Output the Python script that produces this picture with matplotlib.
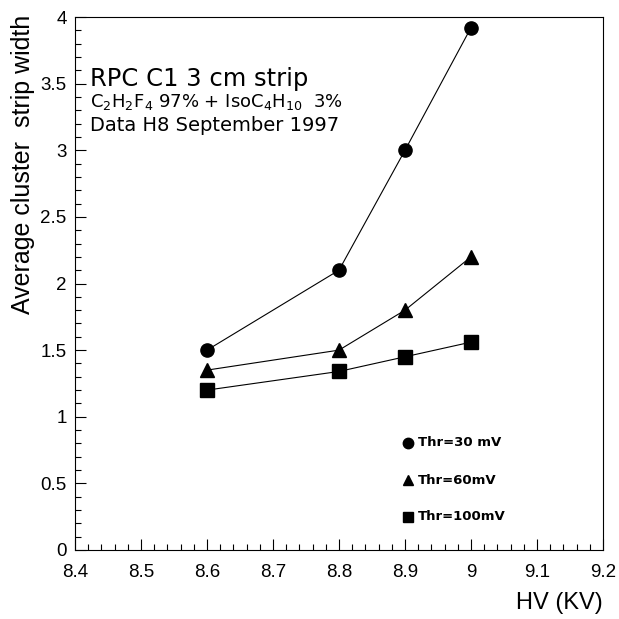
import matplotlib
matplotlib.use("Agg")
import matplotlib.pyplot as plt
from matplotlib.lines import Line2D
from matplotlib.ticker import MultipleLocator, FuncFormatter

hv = [8.6, 8.8, 8.9, 9.0]
thr30 = [1.5, 2.1, 3.0, 3.92]
thr60 = [1.35, 1.5, 1.8, 2.2]
thr100 = [1.2, 1.34, 1.45, 1.56]
series_labels = ["Thr=30 mV", "Thr=60mV", "Thr=100mV"]

plt.rcParams['font.family'] = ['Liberation Sans', 'DejaVu Sans']

fig = plt.figure(figsize=(6.19, 6.19), dpi=100)
ax = fig.add_axes([75/619, 69/619, 528/619, 533/619])

for y, m in zip([thr30, thr60, thr100], ['o', '^', 's']):
    ax.plot(hv, y, color='black', lw=0.8, marker=m, markersize=9.5,
            markerfacecolor='black', markeredgecolor='black')

ax.set_xlim(8.4, 9.2)
ax.set_ylim(0, 4)
ax.xaxis.set_major_locator(MultipleLocator(0.1))
ax.xaxis.set_minor_locator(MultipleLocator(0.02))
ax.yaxis.set_major_locator(MultipleLocator(0.5))
ax.yaxis.set_minor_locator(MultipleLocator(0.1))
ax.xaxis.set_major_formatter(FuncFormatter(lambda v, p: ('%g' % round(v, 2))))
ax.yaxis.set_major_formatter(FuncFormatter(lambda v, p: ('%g' % round(v, 2))))
ax.tick_params(which='both', direction='in', top=False, right=False, labelsize=13.5)
ax.tick_params(which='major', length=8, width=0.8)
ax.tick_params(which='minor', length=4, width=0.8)
ax.tick_params(axis='x', pad=10)
ax.tick_params(axis='y', pad=6)
for s in ax.spines.values():
    s.set_linewidth(0.8)

fig.text(23/619, 1 - 15/619, "Average cluster  strip width", rotation=90,
         ha='center', va='top', fontsize=18)
fig.text(603/619, 1 - 603/619, "HV (KV)", ha='right', va='center', fontsize=17)

fig.text(90/619, 1 - 86/619, "RPC C1 3 cm strip", ha='left', va='baseline', fontsize=17.5,
         family=['DejaVu Sans'])
fig.text(90/619, 1 - 107/619, r"C$_2$H$_2$F$_4$ 97% + IsoC$_4$H$_{10}$  3%", ha='left',
         va='baseline', fontsize=13, family=['DejaVu Sans'])
fig.text(90/619, 1 - 131/619, "Data H8 September 1997", ha='left', va='baseline',
         fontsize=14, family=['DejaVu Sans'])

leg_y = [443, 480, 517]
for ly, m, lab in zip(leg_y, ['o', '^', 's'], series_labels):
    fig.lines.append(Line2D([408/619], [1 - ly/619], marker=m, markersize=7.5,
                            color='black', transform=fig.transFigure))
    fig.text(418/619, 1 - ly/619, lab, ha='left', va='center', fontsize=9.5,
             fontweight='bold', family=['DejaVu Sans'])

fig.savefig("out.png", dpi=100)
